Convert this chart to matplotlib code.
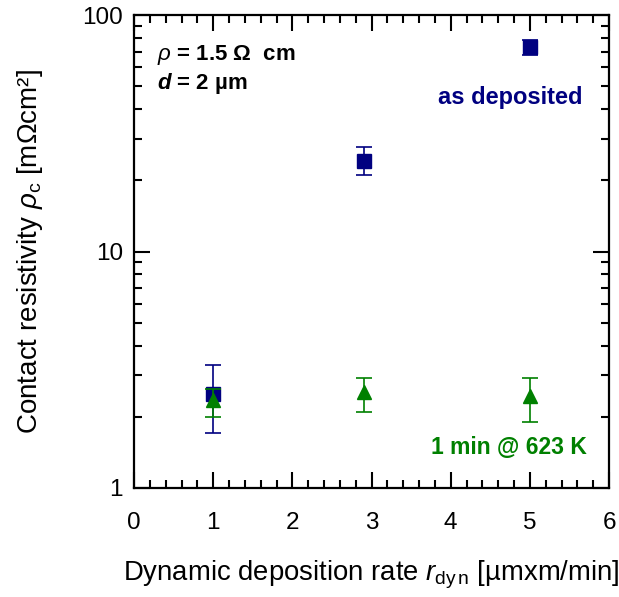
import matplotlib
matplotlib.use("Agg")
import matplotlib.pyplot as plt
from matplotlib.ticker import FixedLocator, MultipleLocator, LogLocator, NullFormatter

plt.rcParams['font.family'] = ['Liberation Sans', 'DejaVu Sans']
plt.rcParams['mathtext.fontset'] = 'custom'
plt.rcParams['mathtext.rm'] = 'Liberation Sans'
plt.rcParams['mathtext.it'] = 'Liberation Sans:italic'
plt.rcParams['mathtext.bf'] = 'Liberation Sans:bold'
plt.rcParams['mathtext.bfit'] = 'Liberation Sans:bold:italic'

# Dynamic deposition rate [µm x m/min]
rate = [1.0, 2.9, 5.0]

# As-deposited contact resistivity [mOhm cm^2] with error bar limits
dep_val = [2.5, 24.2, 73.3]
dep_hi = [3.31, 27.7, 78.5]
dep_lo = [1.71, 21.1, 67.8]

# After annealing 1 min @ 623 K
ann_val = [2.36, 2.55, 2.45]
ann_hi = [2.61, 2.91, 2.91]
ann_lo = [2.00, 2.10, 1.91]

x_ticks = [0, 1, 2, 3, 4, 5, 6]
y_ticks = [1, 10, 100]
y_tick_labels = ['1', '10', '100']

navy = '#000080'
green = '#008000'

fig = plt.figure(figsize=(6.19, 5.97), dpi=100)
ax = fig.add_axes([134 / 619, 1 - 488 / 597, (609 - 134) / 619, (488 - 15) / 597])

def err(vals, lo, hi):
    return [[v - l for v, l in zip(vals, lo)], [h - v for v, h in zip(vals, hi)]]

ax.errorbar(rate, dep_val, yerr=err(dep_val, dep_lo, dep_hi), fmt='s', color=navy,
            ms=9.5, capsize=5.8, elinewidth=1.2, capthick=1.2, zorder=3)
ax.errorbar(rate, ann_val, yerr=err(ann_val, ann_lo, ann_hi), fmt='^', color=green,
            ms=10.5, capsize=5.8, elinewidth=1.2, capthick=1.2, zorder=4)

ax.set_yscale('log')
ax.set_xlim(0, 6)
ax.set_ylim(1, 100)

ax.xaxis.set_major_locator(FixedLocator(x_ticks))
ax.xaxis.set_minor_locator(MultipleLocator(0.2))
ax.yaxis.set_major_locator(FixedLocator(y_ticks))
ax.set_yticklabels(y_tick_labels)
ax.yaxis.set_minor_locator(LogLocator(base=10, subs=range(2, 10)))
ax.yaxis.set_minor_formatter(NullFormatter())

ax.tick_params(which='both', direction='in', top=True, right=True, width=1.5,
               labelsize=17.5, colors='black')
ax.tick_params(which='major', length=11.5)
ax.tick_params(axis='x', which='major', pad=17)
ax.tick_params(axis='y', which='major', pad=8)
ax.tick_params(which='minor', length=6)
for s in ax.spines.values():
    s.set_linewidth(1.6)

ax.set_xlabel(r'Dynamic deposition rate $r_{\mathrm{dy\,n}}$ [µmxm/min]', fontsize=19.8)
ax.set_ylabel(r'Contact resistivity $\rho_{\mathrm{c}}$ [mΩcm²]', fontsize=20)
ax.xaxis.label.set_va('center')
ax.yaxis.label.set_va('center')
ax.xaxis.set_label_coords(0.5, (488 - 575) / 473)
ax.yaxis.set_label_coords((30 - 134) / 475, 0.5)

ax.text(0.048, 0.915, r'$\rho$ = 1.5 Ω  cm', transform=ax.transAxes, fontsize=16,
        fontweight='bold', va='center', ha='left')
ax.text(0.048, 0.856, r'$\boldsymbol{d}$ = 2 µm', transform=ax.transAxes, fontsize=16,
        fontweight='bold', va='center', ha='left')
ax.text(0.945, 0.825, 'as deposited', transform=ax.transAxes, fontsize=17,
        fontweight='bold', color=navy, va='center', ha='right')
ax.text(0.954, 0.085, '1 min @ 623 K', transform=ax.transAxes, fontsize=16.5,
        fontweight='bold', color=green, va='center', ha='right')

fig.savefig('out.png', dpi=100)
